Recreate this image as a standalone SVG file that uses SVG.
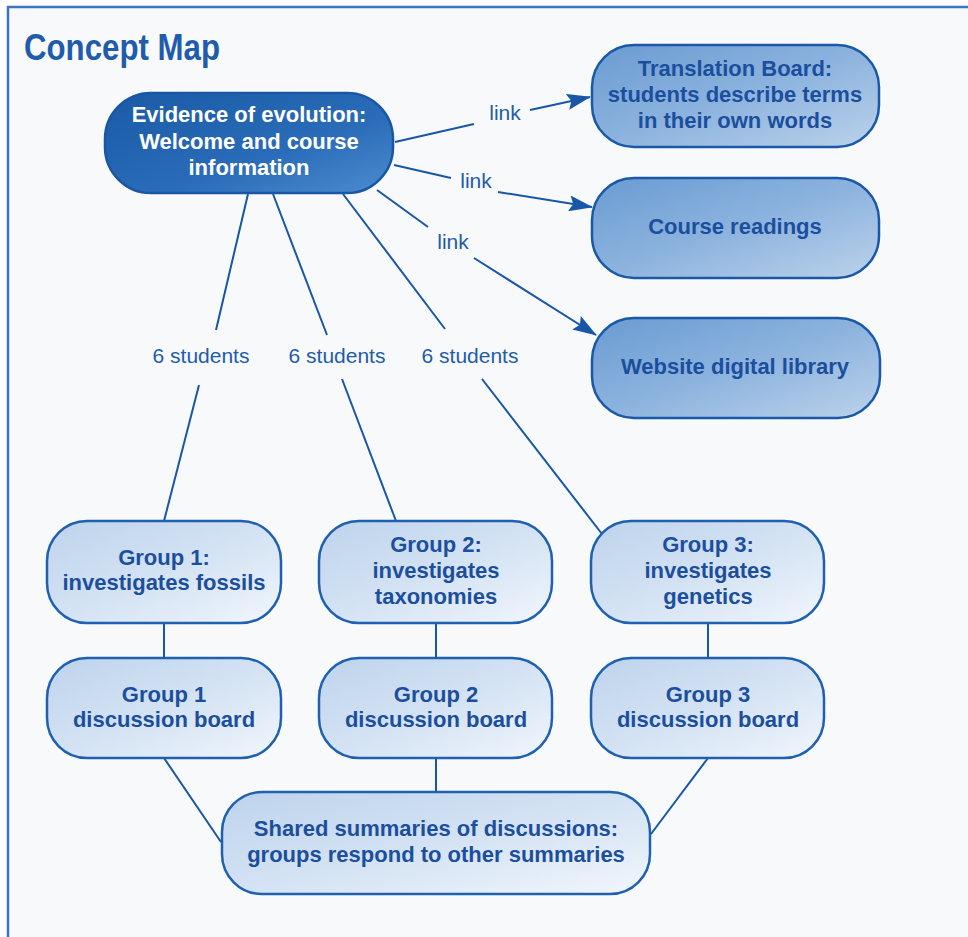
<svg xmlns="http://www.w3.org/2000/svg" width="968" height="937" viewBox="0 0 968 937">
<defs>
<linearGradient id="gMain" x1="0" y1="0" x2="1" y2="1">
<stop offset="0" stop-color="#1a5aa6"/>
<stop offset="0.6" stop-color="#2a6cb9"/>
<stop offset="1" stop-color="#4d8ccf"/>
</linearGradient>
<linearGradient id="gMid" x1="0" y1="0" x2="1" y2="1">
<stop offset="0" stop-color="#6a9bd2"/>
<stop offset="0.5" stop-color="#8cb3de"/>
<stop offset="1" stop-color="#bcd2ea"/>
</linearGradient>
<linearGradient id="gLight" x1="0" y1="0" x2="1" y2="1">
<stop offset="0" stop-color="#bdd3ec"/>
<stop offset="0.55" stop-color="#d6e4f4"/>
<stop offset="1" stop-color="#f1f6fc"/>
</linearGradient>
<marker id="arr" viewBox="0 0 24 16" refX="23" refY="8" markerWidth="24" markerHeight="16" markerUnits="userSpaceOnUse" orient="auto">
<path d="M0,0 L24,8 L0,16 L4,8 Z" fill="#1a56a8"/>
</marker>
<style>
.t{font-family:"Liberation Sans",Arial,sans-serif;font-weight:bold;font-size:22px;fill:#1b4f9e;text-anchor:middle}
.tw{font-family:"Liberation Sans",Arial,sans-serif;font-weight:bold;font-size:22px;fill:#ffffff;text-anchor:middle}
.lbl{font-family:"Liberation Sans",Arial,sans-serif;font-size:21px;fill:#1f5cab;text-anchor:middle}
.c{stroke:#1a56a8;stroke-width:2;fill:none}
.nm{fill:url(#gMain);stroke:#1a56a3;stroke-width:2.5}
.nd{fill:url(#gMid);stroke:#1a58a8;stroke-width:2.5}
.nl{fill:url(#gLight);stroke:#2060b0;stroke-width:2.5}
</style>
</defs>
<rect x="0" y="0" width="968" height="937" fill="#ffffff"/>
<rect x="9" y="8" width="959" height="929" fill="#f7f9fb"/>
<path d="M968,7 H8 V937" fill="none" stroke="#3a74bf" stroke-width="2.5"/>
<text x="24" y="60" font-family="'Liberation Sans',Arial,sans-serif" font-weight="bold" font-size="36" fill="#1f5cab" textLength="196" lengthAdjust="spacingAndGlyphs">Concept Map</text>

<g id="connectors">
<line class="c" x1="395" y1="142" x2="474" y2="124"/>
<line class="c" x1="530" y1="110" x2="590" y2="97" marker-end="url(#arr)"/>
<line class="c" x1="394" y1="165" x2="451" y2="178"/>
<line class="c" x1="498" y1="192" x2="592" y2="207" marker-end="url(#arr)"/>
<line class="c" x1="377" y1="190" x2="428" y2="227"/>
<line class="c" x1="474" y1="258" x2="596" y2="335" marker-end="url(#arr)"/>
<line class="c" x1="248" y1="194" x2="216" y2="330"/>
<line class="c" x1="199" y1="385" x2="164" y2="521"/>
<line class="c" x1="273" y1="194" x2="327" y2="335"/>
<line class="c" x1="342" y1="379" x2="396" y2="521"/>
<line class="c" x1="343" y1="194" x2="445" y2="329"/>
<line class="c" x1="482" y1="379" x2="602" y2="534"/>
<line class="c" x1="164" y1="623" x2="164" y2="658"/>
<line class="c" x1="436" y1="623" x2="436" y2="658"/>
<line class="c" x1="708" y1="623" x2="708" y2="658"/>
<line class="c" x1="164" y1="758" x2="221" y2="842"/>
<line class="c" x1="436" y1="758" x2="436" y2="792"/>
<line class="c" x1="708" y1="758" x2="651" y2="834"/>
<text class="lbl" x="505" y="120">link</text>
<text class="lbl" x="476" y="188">link</text>
<text class="lbl" x="453" y="249">link</text>
<text class="lbl" x="201" y="363">6 students</text>
<text class="lbl" x="337" y="363">6 students</text>
<text class="lbl" x="470" y="363">6 students</text>
</g>

<g id="n-main">
<rect class="nm" x="105" y="93" width="288" height="100" rx="46"/>
<text class="tw" x="249" y="122">Evidence of evolution:</text>
<text class="tw" x="249" y="149">Welcome and course</text>
<text class="tw" x="249" y="175">information</text>
</g>
<g id="n-translation">
<rect class="nd" x="592" y="45" width="287" height="102" rx="42"/>
<text class="t" x="735" y="76">Translation Board:</text>
<text class="t" x="735" y="102">students describe terms</text>
<text class="t" x="735" y="128">in their own words</text>
</g>
<g id="n-readings">
<rect class="nd" x="592" y="178" width="287" height="100" rx="42"/>
<text class="t" x="735" y="234">Course readings</text>
</g>
<g id="n-library">
<rect class="nd" x="592" y="318" width="288" height="100" rx="42"/>
<text class="t" x="735" y="374">Website digital library</text>
</g>
<g id="n-group1">
<rect class="nl" x="47" y="521" width="234" height="102" rx="40"/>
<text class="t" x="164" y="565">Group 1:</text>
<text class="t" x="164" y="590">investigates fossils</text>
</g>
<g id="n-group2">
<rect class="nl" x="319" y="521" width="233" height="102" rx="40"/>
<text class="t" x="436" y="552">Group 2:</text>
<text class="t" x="436" y="578">investigates</text>
<text class="t" x="436" y="604">taxonomies</text>
</g>
<g id="n-group3">
<rect class="nl" x="591" y="521" width="233" height="102" rx="40"/>
<text class="t" x="708" y="552">Group 3:</text>
<text class="t" x="708" y="578">investigates</text>
<text class="t" x="708" y="604">genetics</text>
</g>
<g id="n-db1">
<rect class="nl" x="47" y="658" width="234" height="100" rx="40"/>
<text class="t" x="164" y="702">Group 1</text>
<text class="t" x="164" y="727">discussion board</text>
</g>
<g id="n-db2">
<rect class="nl" x="319" y="658" width="233" height="100" rx="40"/>
<text class="t" x="436" y="702">Group 2</text>
<text class="t" x="436" y="727">discussion board</text>
</g>
<g id="n-db3">
<rect class="nl" x="591" y="658" width="233" height="100" rx="40"/>
<text class="t" x="708" y="702">Group 3</text>
<text class="t" x="708" y="727">discussion board</text>
</g>
<g id="n-shared">
<rect class="nl" x="222" y="792" width="428" height="102" rx="40"/>
<text class="t" x="436" y="836">Shared summaries of discussions:</text>
<text class="t" x="436" y="862">groups respond to other summaries</text>
</g>
</svg>
